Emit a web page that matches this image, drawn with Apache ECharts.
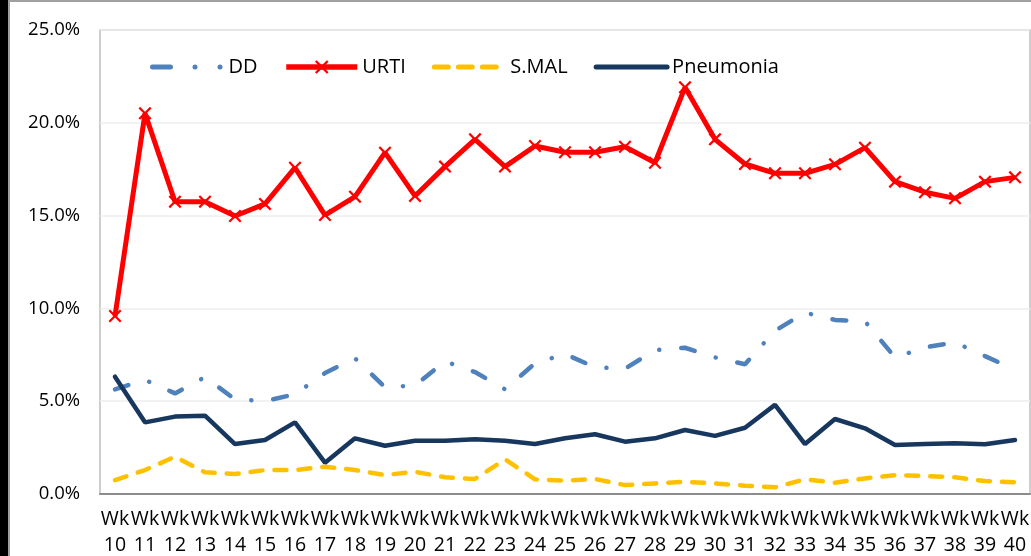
<!DOCTYPE html>
<html>
<head>
<meta charset="utf-8">
<script src="https://cdn.jsdelivr.net/npm/echarts@6/dist/echarts.min.js"></script>
<style>
html,body{margin:0;padding:0;background:#fff;}
#chart{width:1031px;height:556px;}
</style>
</head>
<body>
<div id="chart"></div>
<script>
const categories = ['Wk\n10','Wk\n11','Wk\n12','Wk\n13','Wk\n14','Wk\n15','Wk\n16','Wk\n17','Wk\n18','Wk\n19','Wk\n20','Wk\n21','Wk\n22','Wk\n23','Wk\n24','Wk\n25','Wk\n26','Wk\n27','Wk\n28','Wk\n29','Wk\n30','Wk\n31','Wk\n32','Wk\n33','Wk\n34','Wk\n35','Wk\n36','Wk\n37','Wk\n38','Wk\n39','Wk\n40'];
const seriesNames = ['DD','URTI','S.MAL','Pneumonia'];
const ddValues = [5.64,6.15,5.42,6.3,5.1,5.01,5.37,6.52,7.31,5.75,5.85,7.15,6.57,5.64,7.04,7.54,6.83,6.75,7.75,7.88,7.36,6.99,8.8,9.77,9.38,9.3,7.36,7.9,8.17,7.43,6.7];
const urtiValues = [9.59,20.51,15.75,15.75,14.98,15.63,17.58,15.03,16.02,18.39,16.06,17.64,19.11,17.64,18.75,18.41,18.41,18.71,17.85,21.91,19.11,17.78,17.28,17.28,17.76,18.66,16.83,16.26,15.93,16.83,17.06];
const smalValues = [0.75,1.29,2.01,1.17,1.08,1.29,1.29,1.47,1.29,1.02,1.2,0.9,0.81,1.87,0.79,0.72,0.81,0.48,0.57,0.66,0.57,0.45,0.36,0.79,0.61,0.84,1.02,0.97,0.9,0.7,0.63];
const pneumoniaValues = [6.32,3.86,4.17,4.22,2.69,2.91,3.86,1.69,3.0,2.6,2.87,2.87,2.95,2.87,2.69,3.0,3.22,2.82,3.0,3.45,3.13,3.57,4.8,2.69,4.04,3.54,2.64,2.69,2.73,2.68,2.91];
const yMin = 0, yMax = 25, yStep = 5;

const FONT = 'Open Sans';
const xPath = 'path://M0,1.2L1.2,0L5,3.8L8.8,0L10,1.2L6.2,5L10,8.8L8.8,10L5,6.2L1.2,10L0,8.8L3.8,5Z';

const chart = echarts.init(document.getElementById('chart'), null, {renderer:'canvas'});
chart.setOption({
  animation:false,
  backgroundColor:'#fff',
  textStyle:{fontFamily:FONT},
  graphic:[
    {type:'rect', shape:{x:0,y:0,width:8,height:556}, style:{fill:'#000'}},
    {type:'rect', shape:{x:8,y:0,width:2,height:556}, style:{fill:'#a0a0a0'}},
    {type:'rect', shape:{x:8,y:0,width:1023,height:2}, style:{fill:'#a0a0a0'}}
  ],
  grid:{left:100, right:1, top:30, bottom:62, show:true, borderColor:'#bfbfbf', borderWidth:1.5,
        containLabel:false, outerBoundsMode:'none'},
  legend:{
    data:[
      {name:'DD', itemStyle:{opacity:0}, lineStyle:{width:5, type:[18,24.5,0.01,25,0.01,40], cap:'round'}},
      {name:'URTI', lineStyle:{width:5.5}},
      {name:'S.MAL', itemStyle:{opacity:0}, lineStyle:{width:5, type:[14,10], cap:'round'}},
      {name:'Pneumonia', itemStyle:{opacity:0}, lineStyle:{width:5, cap:'round'}}
    ],
    left:145, top:52, itemWidth:71, itemHeight:17, itemGap:26,
    textStyle:{fontFamily:FONT, fontSize:20, color:'#000'}
  },
  xAxis:{
    type:'category', data:categories, boundaryGap:true,
    axisLine:{show:true, lineStyle:{color:'#8c8c8c', width:2}},
    axisTick:{show:false},
    axisLabel:{interval:0, color:'#000', fontFamily:FONT, fontSize:19.5, lineHeight:26, margin:12}
  },
  yAxis:{
    type:'value', min:yMin, max:yMax, interval:yStep,
    axisLine:{show:false}, axisTick:{show:false},
    splitLine:{lineStyle:{color:'#eeeeee', width:1.5}},
    axisLabel:{color:'#000', fontFamily:FONT, fontSize:18.5, margin:20, formatter:v=>v.toFixed(1)+'%'}
  },
  series:[
    {name:'DD', type:'line', data:ddValues, showSymbol:false, symbol:'circle',
      lineStyle:{color:'#4f81bd', width:4.5, type:[14,22,0.1,22], cap:'round'}, itemStyle:{color:'#4f81bd'}},
    {name:'URTI', type:'line', data:urtiValues, symbol:xPath, symbolSize:13,
      lineStyle:{color:'#ff0000', width:5}, itemStyle:{color:'#ff0000'}},
    {name:'S.MAL', type:'line', data:smalValues, showSymbol:false, symbol:'circle',
      lineStyle:{color:'#ffc000', width:4.5, type:[12,12], cap:'round'}, itemStyle:{color:'#ffc000'}},
    {name:'Pneumonia', type:'line', data:pneumoniaValues, showSymbol:false, symbol:'circle',
      lineStyle:{color:'#17375e', width:4.5, cap:'round'}, itemStyle:{color:'#17375e'}}
  ]
});
</script>
</body>
</html>
